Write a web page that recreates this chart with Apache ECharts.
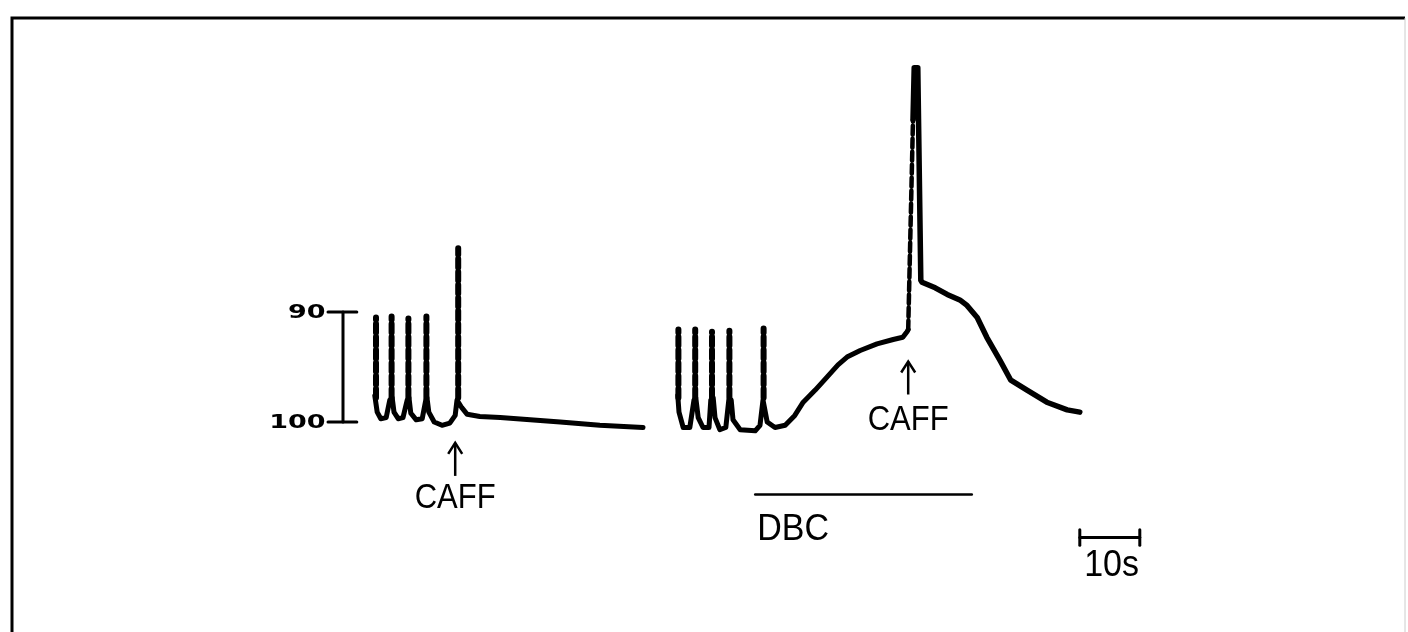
<!DOCTYPE html>
<html><head><meta charset="utf-8">
<script src="https://cdn.jsdelivr.net/npm/echarts@6/dist/echarts.min.js"></script>
<style>html,body{margin:0;padding:0;background:#fff}#c{width:1408px;height:632px}</style>
</head><body><div id="c"></div>
<script>
// time in seconds, value on the recorder scale (90..100, increasing downward)
const leftTrace = [[5.8,97.6],[6.2,99.1],[6.8,99.7],[7.7,99.6],[8.3,98.0],[8.7,97.8],[9.0,99.1],[9.7,99.7],[10.5,99.6],[11.2,98.0],[11.5,97.8],[11.8,99.2],[12.7,99.8],[13.7,99.7],[14.3,98.0],[14.5,97.8],[14.8,99.1],[15.7,100.0],[17.0,100.3],[18.3,100.1],[19.2,99.4],[19.5,98.0],[19.8,98.0],[20.3,98.7],[21.2,99.3],[23.3,99.5],[26.7,99.6],[31.7,99.8],[36.7,100.0],[43.3,100.3],[50.5,100.5]];
const leftSpikeT = [6.0, 8.6, 11.4, 14.4, 19.7];
const leftSpikePeak = [90.5, 90.4, 90.6, 90.4, 84.2];
const rightTrace = [[56.3,97.6],[56.5,99.1],[57.2,100.5],[58.3,100.5],[59.0,98.0],[59.3,97.8],[59.7,99.6],[60.5,100.5],[61.5,100.5],[61.8,98.0],[62.2,97.8],[62.5,99.6],[63.3,100.7],[64.3,100.5],[64.8,98.0],[65.2,98.0],[65.5,99.8],[66.7,100.7],[69.2,100.8],[70.0,100.3],[70.5,98.0],[70.8,98.0],[71.2,100.0],[72.5,100.5],[74.2,100.3],[75.8,99.4],[77.2,98.2],[79.2,97.1],[81.2,95.9],[83.0,94.8],[84.5,94.1],[86.7,93.5],[89.5,92.9],[92.2,92.5],[93.8,92.3],[94.5,91.8],[94.7,91.6]];
const rightSpikeT = [56.4, 59.2, 62.0, 64.9, 70.6];
const rightSpikePeak = [91.6, 91.6, 91.8, 91.7, 91.5];
const spikeLow = 97.8;
const caffUp = [[94.7,91.6],[95.5,72.5]];
const caffDecay = [[95.5,72.5],[95.7,67.8],[96.3,67.8],[96.8,87.1],[97.0,87.3],[99.2,87.8],[101.2,88.4],[103.3,88.9],[104.5,89.4],[106.2,90.5],[107.8,92.3],[110.0,94.4],[111.8,96.2],[114.5,97.1],[117.8,98.2],[121.2,98.9],[123.3,99.1]];
const scaleBarT = 0.5, scaleTickT = [-2.0, 2.8];
const scaleValues = [90, 100];
const scaleLabels = ['90', '100'];
const timeBar = [123.3, 133.3], timeBarV = 110.5;
const timeLabel = '10s';
const dbcBar = [69.2, 105.3], dbcV = 106.6;
const dbcLabel = 'DBC';
const arrowT = [19.2, 94.7], arrowTip = [101.9, 94.5], arrowBase = [104.9, 97.5];
const arrowLabel = 'CAFF', arrowLabelV = [106.9, 99.8];

function seg(data, dashed, w) {
  return {type:'line', data: data, symbol:'none', silent:true, clip:false, animation:false,
    lineStyle:{color:'#000', width: w || 5, type: dashed ? [9,4] : 'solid', cap:'round', join:'round'}};
}
const series = [];
series.push(seg(leftTrace));
series.push(seg(rightTrace));
leftSpikeT.forEach((t,i)=>series.push(seg([[t,spikeLow],[t,leftSpikePeak[i]]], true, 6)));
rightSpikeT.forEach((t,i)=>series.push(seg([[t,spikeLow],[t,rightSpikePeak[i]]], true, 6)));
series.push(seg(caffUp, true, 4.5));
series.push(seg(caffDecay, false, 5.5));
// amplitude scale bar
series.push(seg([[scaleBarT, scaleValues[0]],[scaleBarT, scaleValues[1]]], false, 3));
scaleValues.forEach(v=>series.push(seg([[scaleTickT[0],v],[scaleTickT[1],v]], false, 3)));
// time bar
series.push(seg([[timeBar[0],timeBarV],[timeBar[1],timeBarV]], false, 3));
timeBar.forEach(t=>series.push(seg([[t,timeBarV-0.7],[t,timeBarV+0.7]], false, 3)));
// DBC bar
series.push(seg([[dbcBar[0],dbcV],[dbcBar[1],dbcV]], false, 2.5));

const chart = echarts.init(document.getElementById('c'), null, {renderer:'canvas'});
chart.setOption({
  backgroundColor:'#fff', animation:false,
  grid:{left:280, right:228, top:37, bottom:45},
  xAxis:{type:'value', min:-10, max:140, show:false},
  yAxis:{type:'value', min:65, max:115, inverse:true, show:false},
  series: series
});
const P = (t,v)=>chart.convertToPixel({gridIndex:0},[t,v]);
const g = [];
// frame
g.push({type:'polyline', shape:{points:[[12,700],[12,18],[1405,18]]}, style:{stroke:'#000', lineWidth:3, fill:null}});
g.push({type:'line', shape:{x1:1405,y1:18,x2:1405,y2:632}, style:{stroke:'#ccc', lineWidth:1}});
scaleValues.forEach((v,i)=>{
  const p = P(scaleTickT[0]-0.4, v);
  g.push({type:'text', x:p[0], y:p[1]+1, scaleX:1.35, scaleY:0.95, style:{text:scaleLabels[i], font:'bold 20px "DejaVu Sans"', fill:'#000', align:'right', verticalAlign:'middle'}});
});
arrowT.forEach((t,i)=>{
  const a = P(t, arrowTip[i]), b = P(t, arrowBase[i]);
  g.push({type:'line', shape:{x1:a[0],y1:a[1],x2:b[0],y2:b[1]}, style:{stroke:'#000', lineWidth:2.5}});
  g.push({type:'polyline', shape:{points:[[a[0]-7,a[1]+11],[a[0],a[1]],[a[0]+7,a[1]+11]]}, style:{stroke:'#000', lineWidth:2.5, fill:null}});
  const c = P(t, arrowLabelV[i]);
  g.push({type:'text', x:c[0], y:c[1], scaleY:1.15, style:{text:arrowLabel, font:'31px "Liberation Sans"', fill:'#000', align:'center', verticalAlign:'middle'}});
});
const d = P(dbcBar[0], dbcV + 3.2);
g.push({type:'text', x:d[0]+2, y:d[1], scaleY:1.1, style:{text:dbcLabel, font:'34px "Liberation Sans"', fill:'#000', align:'left', verticalAlign:'middle'}});
const tl = P((timeBar[0]+timeBar[1])/2 + 0.3, timeBarV + 2.6);
g.push({type:'text', x:tl[0], y:tl[1], scaleY:1.1, style:{text:timeLabel, font:'34px "Liberation Sans"', fill:'#000', align:'center', verticalAlign:'middle'}});
chart.setOption({graphic: g});
</script></body></html>
